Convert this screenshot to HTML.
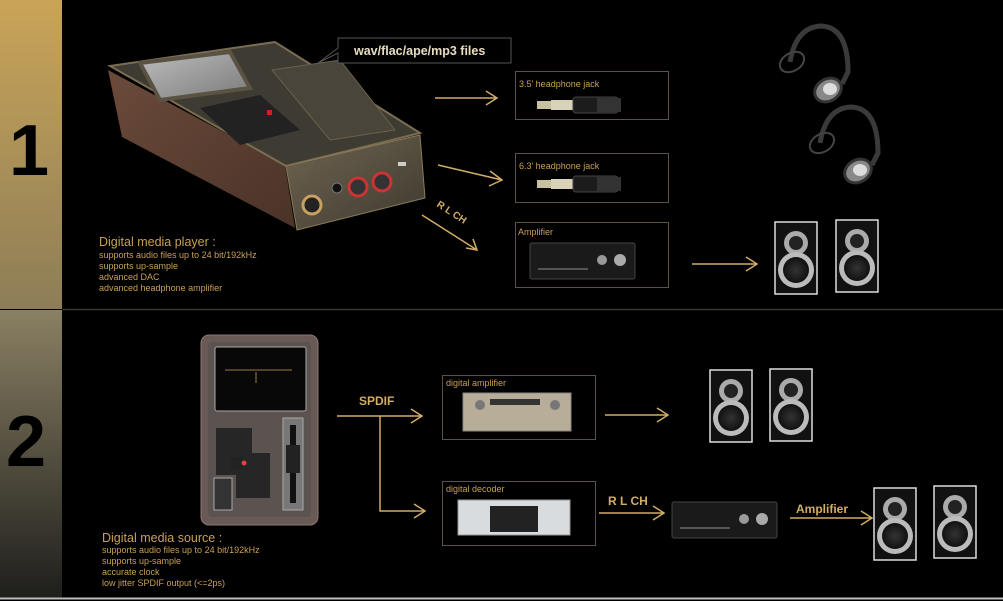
<!DOCTYPE html>
<html><head><meta charset="utf-8"><style>
html,body{margin:0;padding:0;background:#000;width:1003px;height:601px;overflow:hidden}
svg{display:block}
text{font-family:"Liberation Sans",sans-serif}
</style></head><body>
<svg width="1003" height="601" viewBox="0 0 1003 601" xmlns="http://www.w3.org/2000/svg">
<defs>
<linearGradient id="g1" x1="0" y1="0" x2="0" y2="1"><stop offset="0" stop-color="#c9a458"/><stop offset="1" stop-color="#8d7d57"/></linearGradient>
<linearGradient id="g2" x1="0" y1="0" x2="0" y2="1"><stop offset="0" stop-color="#8a8063"/><stop offset="1" stop-color="#1e1e1c"/></linearGradient>
<linearGradient id="wood" x1="0" y1="0" x2="1" y2="1"><stop offset="0" stop-color="#6b4a3a"/><stop offset="1" stop-color="#4a3328"/></linearGradient>
<linearGradient id="bronze" x1="0" y1="0" x2="1" y2="1"><stop offset="0" stop-color="#6f6450"/><stop offset="1" stop-color="#3e3a30"/></linearGradient>
<linearGradient id="scr" x1="0" y1="0" x2="1" y2="1"><stop offset="0" stop-color="#bdbdbd"/><stop offset="1" stop-color="#7a7a7a"/></linearGradient>
<radialGradient id="cone"><stop offset="0" stop-color="#333"/><stop offset="1" stop-color="#111"/></radialGradient>
<g id="spk">
<rect x="0" y="0" width="42" height="72" fill="#111" stroke="#ddd" stroke-width="1.5"/>
<circle cx="21" cy="21" r="12" fill="#aaa"/><circle cx="21" cy="21" r="7" fill="#222"/>
<circle cx="21" cy="48" r="18" fill="#bbb"/><circle cx="21" cy="48" r="13" fill="url(#cone)"/>
</g>
<g id="hp" fill="none" stroke="#3a3a3a" stroke-width="5">
<path d="M14 40 Q20 5 45 4 Q72 5 72 50 L66 62"/>
<ellipse cx="16" cy="40" rx="13" ry="9" stroke-width="2" stroke="#444" transform="rotate(-30 16 40)"/>
<ellipse cx="52" cy="68" rx="14" ry="11" fill="#888" stroke="#333" stroke-width="3" transform="rotate(-30 52 68)"/>
<ellipse cx="54" cy="67" rx="7" ry="6" fill="#ddd" stroke="none"/>
</g>
<g id="jack">
<rect x="0" y="4" width="14" height="8" fill="#c8c0a0"/><rect x="14" y="3" width="22" height="10" fill="#d8d2b8"/>
<rect x="36" y="0" width="45" height="16" rx="3" fill="#1c1c1c" stroke="#444"/>
<rect x="60" y="1" width="24" height="14" fill="#333"/>
</g>
<g id="ampblk">
<rect x="0" y="0" width="105" height="36" rx="2" fill="#1a1a1a" stroke="#444"/>
<circle cx="72" cy="17" r="5" fill="#999"/><circle cx="90" cy="17" r="6" fill="#aaa"/>
<rect x="8" y="25" width="50" height="2" fill="#555"/>
</g>
</defs>
<rect width="1003" height="601" fill="#000"/>
<rect x="0" y="0" width="62" height="309" fill="url(#g1)"/>
<rect x="0" y="310" width="62" height="288" fill="url(#g2)"/>
<line x1="62" y1="309.5" x2="1003" y2="309.5" stroke="#3a3630" stroke-width="1.5"/>
<line x1="0" y1="598.5" x2="1003" y2="598.5" stroke="#bbb" stroke-width="2"/>
<text x="9" y="175" font-size="72" font-weight="bold" fill="#000">1</text>
<text x="6" y="466" font-size="72" font-weight="bold" fill="#000">2</text>

<!-- player 1 -->
<polygon points="108,70 285,165 295,228 122,137" fill="url(#wood)"/>
<polygon points="110,66 275,42 420,133 286,166" fill="#3e3b33" stroke="#7a6d52" stroke-width="2"/>
<polygon points="140,63 230,52 250,88 160,100" fill="url(#scr)" stroke="#5a5242" stroke-width="4"/>
<polygon points="200,108 260,95 300,130 240,145" fill="#222"/>
<polygon points="272,70 340,60 395,130 330,140" fill="#4a453a" stroke="#6a604a"/>
<rect x="267" y="110" width="5" height="5" fill="#c22"/>
<polygon points="286,166 420,135 425,198 297,230" fill="url(#bronze)" stroke="#8a7a58"/>
<circle cx="312" cy="205" r="9" fill="#222" stroke="#c8a060" stroke-width="3"/>
<circle cx="337" cy="188" r="5" fill="#111" stroke="#777"/>
<circle cx="358" cy="187" r="9" fill="#333" stroke="#c33" stroke-width="3"/>
<circle cx="382" cy="182" r="9" fill="#333" stroke="#c33" stroke-width="3"/>
<rect x="398" y="162" width="8" height="4" fill="#ccc"/>

<!-- bubble -->
<polygon points="338,38 511,38 511,63 338,63 338,53 318,63 338,48" fill="#000" stroke="#555"/>
<text x="354" y="55" font-size="12.5" font-weight="bold" fill="#e8dcc0">wav/flac/ape/mp3 files</text>

<text x="99" y="246" font-size="12.5" fill="#c9a055">Digital media player :</text>
<g font-size="9" fill="#c9a055"><text x="99" y="258">supports audio files up to 24 bit/192kHz</text><text x="99" y="269">supports up-sample</text><text x="99" y="280">advanced DAC</text><text x="99" y="291">advanced headphone amplifier</text></g>

<g stroke="#d2ad68" stroke-width="1.5" fill="none">
<path d="M435 98 H497 M486 91 L497 98 L486 105"/>
<path d="M438 165 L502 180 M490 171 L502 180 L489 186"/>
<path d="M422 215 L477 250 M466 248 L477 250 L473 239"/>
<path d="M692 264 H757 M746 257 L757 264 L746 271"/>
<path d="M337 416 H422 M380 416 V511 H425 M411 409 L422 416 L411 423 M414 504 L425 511 L414 518"/>
<path d="M605 415 H668 M657 408 L668 415 L657 422"/>
<path d="M599 513 H664 M653 506 L664 513 L653 520"/>
<path d="M790 518 H872 M861 511 L872 518 L861 525"/>
</g>
<text x="0" y="0" font-size="10" font-weight="bold" fill="#d2ad68" transform="translate(436 206) rotate(33)">R L CH</text>

<g stroke="#5a5346" fill="none"><rect x="515.5" y="71.5" width="153" height="48"/><rect x="515.5" y="153.5" width="153" height="49"/><rect x="515.5" y="222.5" width="153" height="65"/>
<rect x="442.5" y="375.5" width="153" height="64"/><rect x="442.5" y="481.5" width="153" height="64"/></g>
<g font-size="9" fill="#c9a055"><text x="519" y="87">3.5’  headphone jack</text><text x="519" y="169">6.3’  headphone jack</text><text x="518" y="235">Amplifier</text>
<text x="446" y="386">digital amplifier</text><text x="446" y="492">digital decoder</text></g>
<use href="#jack" x="537" y="97"/><use href="#jack" x="537" y="176"/>
<use href="#ampblk" x="530" y="243"/>
<use href="#ampblk" x="672" y="502"/>
<rect x="463" y="393" width="108" height="38" fill="#b8ad98" stroke="#888"/><circle cx="480" cy="405" r="5" fill="#777"/><circle cx="555" cy="405" r="5" fill="#777"/><rect x="490" y="399" width="50" height="6" fill="#333"/>
<rect x="458" y="500" width="112" height="35" fill="#d8dcdf" stroke="#999"/><rect x="490" y="506" width="48" height="26" fill="#222"/>

<use href="#spk" x="775" y="222"/><use href="#spk" x="836" y="220"/>
<use href="#spk" x="710" y="370"/><use href="#spk" x="770" y="369"/>
<use href="#spk" x="874" y="488"/><use href="#spk" x="934" y="486"/>
<use href="#hp" x="776" y="22"/><use href="#hp" x="806" y="103"/>

<!-- player 2 -->
<rect x="201" y="335" width="117" height="190" rx="8" fill="#6a5a55" stroke="#8a7770"/>
<rect x="208" y="342" width="103" height="175" rx="4" fill="#5a5350"/>
<rect x="215" y="347" width="91" height="64" rx="2" fill="#080808" stroke="#aaa"/>
<g stroke="#c9a055" stroke-width="0.8"><line x1="225" y1="370" x2="292" y2="370"/><line x1="256" y1="372" x2="256" y2="383"/></g>
<polygon points="216,428 252,428 252,453 270,453 270,498 236,498 236,475 216,475" fill="#262626"/>
<rect x="231" y="457" width="12" height="12" fill="#222"/><circle cx="244" cy="463" r="2.5" fill="#d44"/>
<rect x="214" y="478" width="18" height="32" fill="#333" stroke="#aaa"/>
<rect x="283" y="418" width="20" height="92" fill="#777" stroke="#aaa"/><rect x="290" y="425" width="6" height="78" fill="#111"/><rect x="286" y="445" width="14" height="28" fill="#222"/>

<text x="359" y="405" font-size="12" font-weight="bold" fill="#d2ad68">SPDIF</text>
<text x="608" y="505" font-size="12" font-weight="bold" fill="#d2ad68">R L CH</text>
<text x="796" y="513" font-size="12" font-weight="bold" fill="#d2ad68">Amplifier</text>

<text x="102" y="542" font-size="12.5" fill="#c9a055">Digital media source :</text>
<g font-size="9" fill="#c9a055"><text x="102" y="553">supports audio files up to 24 bit/192kHz</text><text x="102" y="564">supports up-sample</text><text x="102" y="575">accurate clock</text><text x="102" y="586">low jitter SPDIF output (&lt;=2ps)</text></g>
</svg>
</body></html>
